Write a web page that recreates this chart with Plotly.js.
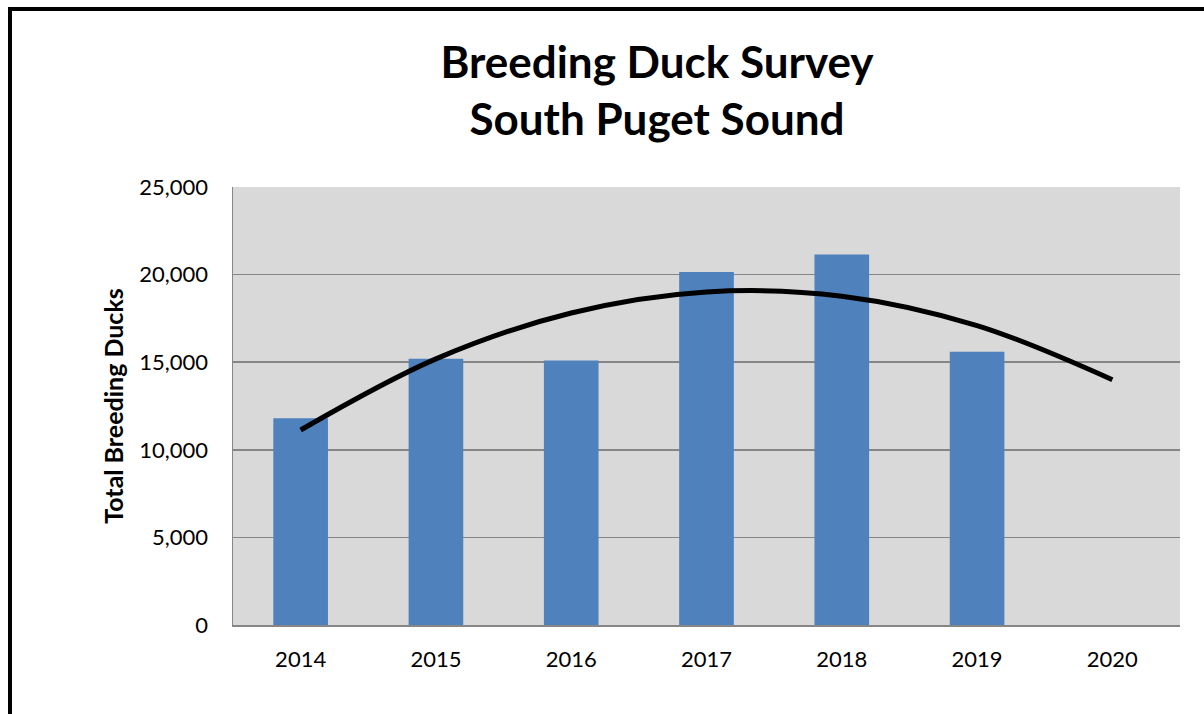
<!DOCTYPE html>
<html>
<head>
<meta charset="utf-8">
<script src="https://cdn.plot.ly/plotly-3.0.1.min.js"></script>
<style>
  html, body { margin: 0; padding: 0; background: #ffffff; }
  #chart { width: 1204px; height: 714px; }
</style>
</head>
<body>
<div id="chart"></div>
<script>
// Data
const years = ['2014', '2015', '2016', '2017', '2018', '2019', '2020'];
const breedingDucks = [11800, 15200, 15100, 20150, 21150, 15600, null];
// Polynomial (order 2) trendline values read at each year
const trendValues = [11130, 15190, 17810, 19010, 18770, 17090, 14000];
const yTickVals = [0, 5000, 10000, 15000, 20000, 25000];
const titleText = 'Breeding Duck Survey<br>South Puget Sound';
const yTitleText = 'Total Breeding Ducks';

const font = 'Lato, "Open Sans", sans-serif';

const traces = [
  {
    type: 'bar',
    x: years,
    y: breedingDucks,
    marker: { color: '#4F81BD', line: { width: 0 } },
    hoverinfo: 'skip',
    showlegend: false
  },
  {
    type: 'scatter',
    mode: 'lines',
    x: years,
    y: trendValues,
    line: { color: '#000000', width: 5, shape: 'spline', smoothing: 1 },
    hoverinfo: 'skip',
    showlegend: false
  }
];

const L = 233, R = 24, T = 187, B = 89;
const W = 1204, H = 714;
const pw = W - L - R, ph = H - T - B;
const px = p => (p - L) / pw;
const py = p => (H - B - p) / ph;

const layout = {
  width: W,
  height: H,
  margin: { l: L, r: R, t: T, b: B, pad: 0 },
  paper_bgcolor: '#ffffff',
  plot_bgcolor: '#D9D9D9',
  bargap: 0.596,
  font: { family: font, color: '#000000', size: 22 },
  title: {
    text: titleText,
    font: { family: font, size: 44, color: '#000000', weight: 'bold' },
    xref: 'container',
    x: 657 / W,
    xanchor: 'center',
    yref: 'container',
    y: 1 - 78 / H,
    yanchor: 'middle'
  },
  xaxis: {
    type: 'category',
    categoryorder: 'array',
    categoryarray: years,
    showgrid: false,
    showline: true,
    linecolor: '#868686',
    linewidth: 1.5,
    ticks: '',
    ticklabelstandoff: 14,
    tickfont: { family: font, size: 22, color: '#000000' },
    zeroline: false,
    fixedrange: true
  },
  yaxis: {
    range: [0, 25000],
    tickvals: yTickVals,
    tickformat: ',',
    showgrid: true,
    gridcolor: '#868686',
    gridwidth: 1.5,
    showline: true,
    linecolor: '#868686',
    linewidth: 1.5,
    zeroline: false,
    ticks: '',
    ticklabelstandoff: 19,
    tickfont: { family: font, size: 22, color: '#000000' },
    title: {
      text: yTitleText,
      font: { family: font, size: 25, color: '#000000', weight: 'bold' },
      standoff: 8
    },
    fixedrange: true
  },
  shapes: [
    {
      type: 'rect',
      xref: 'paper', yref: 'paper',
      x0: px(10), x1: px(1260),
      y0: py(760), y1: py(9),
      line: { color: '#000000', width: 4 },
      fillcolor: 'rgba(0,0,0,0)',
      layer: 'above'
    }
  ]
};

Plotly.newPlot('chart', traces, layout, { displayModeBar: false, staticPlot: true });
</script>
</body>
</html>
